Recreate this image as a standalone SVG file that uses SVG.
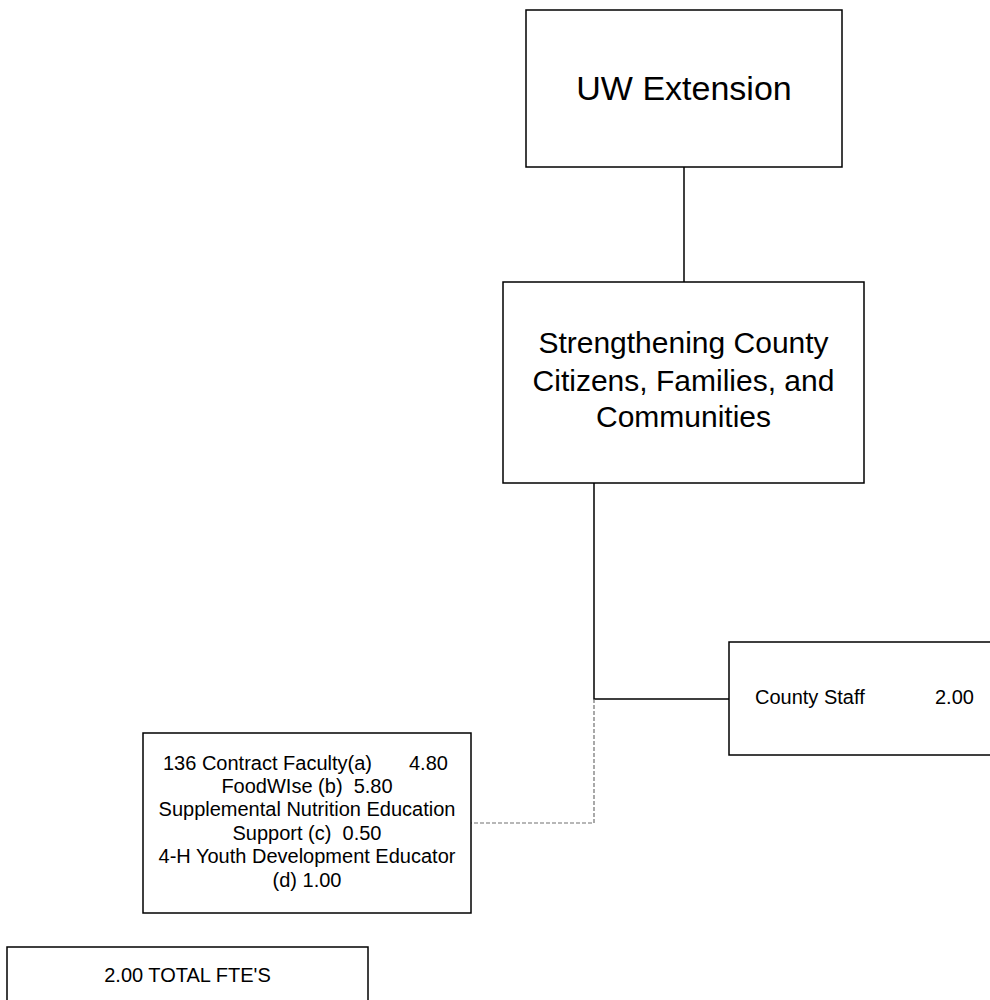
<svg xmlns="http://www.w3.org/2000/svg" width="990" height="1000" viewBox="0 0 990 1000">
<style>
.box{fill:#fff;stroke:#000;stroke-width:1.5}
.t{font-family:"Liberation Sans",Arial,sans-serif;fill:#000;white-space:pre}
.ln{fill:none;stroke:#000;stroke-width:1.5}
.dash{fill:none;stroke:#707070;stroke-width:1.2;stroke-dasharray:4 2}
</style>
<rect width="990" height="1000" fill="#fff"/>
<g id="connectors">
<line class="ln" x1="684" y1="167" x2="684" y2="282"/>
<polyline class="ln" points="594,483 594,699 729,699"/>
<polyline class="dash" points="594,699 594,823 471,823"/>
</g>
<g id="uw-extension">
<rect class="box" x="526" y="10" width="316" height="157"/>
<text class="t" x="684" y="100" font-size="34" text-anchor="middle">UW Extension</text>
</g>
<g id="strengthening">
<rect class="box" x="503" y="282" width="361" height="201"/>
<text class="t" font-size="30" text-anchor="middle"><tspan x="683.5" y="353">Strengthening County</tspan><tspan x="683.5" y="390.5">Citizens, Families, and</tspan><tspan x="683.5" y="427">Communities</tspan></text>
</g>
<g id="county-staff">
<rect class="box" x="729" y="642" width="270" height="113"/>
<text class="t" font-size="20" x="755" y="704">County Staff</text>
<text class="t" font-size="20" x="935" y="704">2.00</text>
</g>
<g id="contract-faculty">
<rect class="box" x="143" y="733" width="328" height="180"/>
<text class="t" font-size="20" x="163" y="770">136 Contract Faculty(a)</text>
<text class="t" font-size="20" x="409" y="770">4.80</text>
<text class="t" font-size="20" text-anchor="middle" xml:space="preserve"><tspan x="307" y="793">FoodWIse (b)  5.80</tspan><tspan x="307" y="816">Supplemental Nutrition Education</tspan><tspan x="307" y="839.5">Support (c)  0.50</tspan><tspan x="307" y="863">4-H Youth Development Educator</tspan><tspan x="307" y="886.5">(d) 1.00</tspan></text>
</g>
<g id="total-fte">
<rect class="box" x="7" y="947" width="361" height="70"/>
<text class="t" font-size="20" x="187.5" y="982" text-anchor="middle">2.00 TOTAL FTE'S</text>
</g>
</svg>
